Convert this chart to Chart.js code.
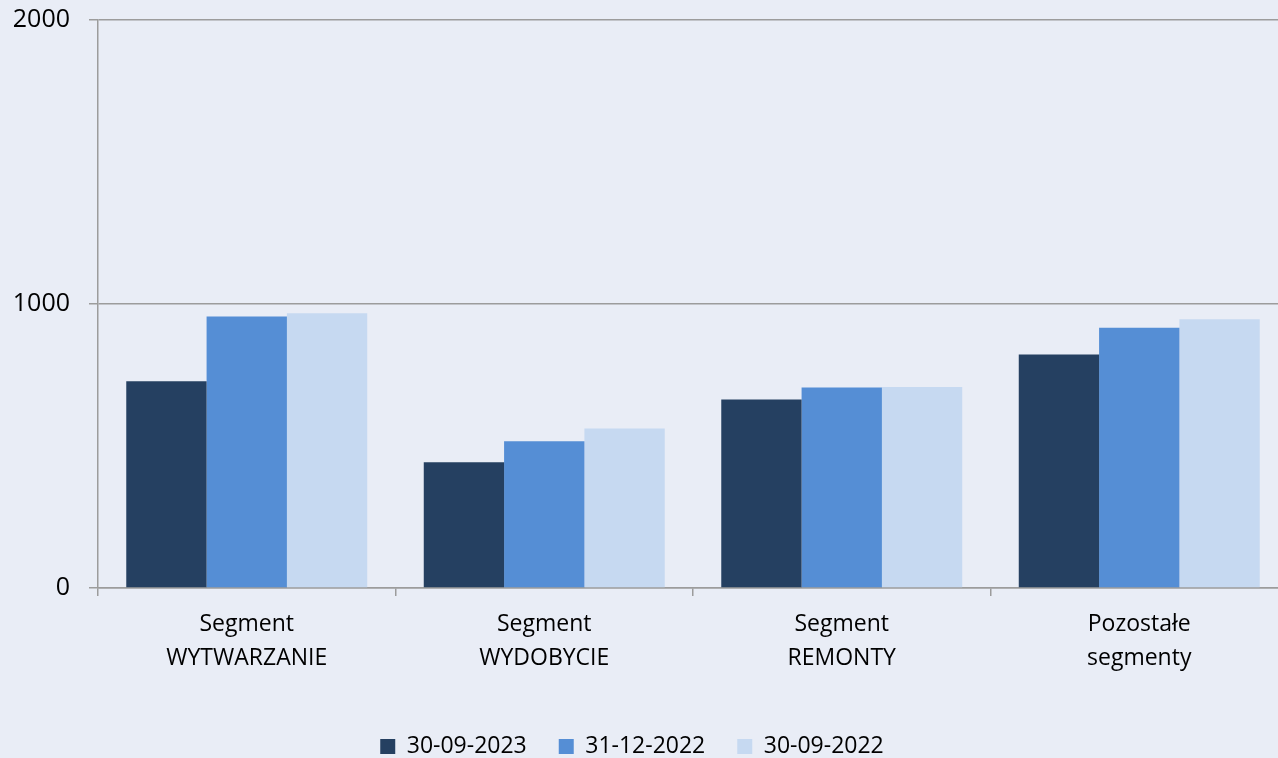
<!DOCTYPE html>
<html lang="pl">
<head>
<meta charset="utf-8">
<title>Segmenty</title>
<script src="https://cdn.jsdelivr.net/npm/chart.js@4/dist/chart.umd.min.js"></script>
<style>
  html, body { margin: 0; padding: 0; background: #E9EDF6; overflow: hidden; }
  #wrap { position: relative; top: -14px; width: 1288px; height: 782px; }
</style>
</head>
<body>
<div id="wrap"><canvas id="chart"></canvas></div>
<script>
// Segment categories (two-line axis labels)
const categories = [
  ['Segment', 'WYTWARZANIE'],
  ['Segment', 'WYDOBYCIE'],
  ['Segment', 'REMONTY'],
  ['Pozostałe', 'segmenty']
];

// Series, one per reporting date
const seriesLabels = ['30-09-2023', '31-12-2022', '30-09-2022'];
const values_2023_09_30 = [728, 443, 664, 822];
const values_2022_12_31 = [956, 517, 706, 916];
const values_2022_09_30 = [967, 562, 708, 946];

// Y-axis range and ticks
const yTicks = [0, 1000, 2000];

const colors = ['#254061', '#558ED5', '#C6D9F1'];
const axisGray = '#9C9C9C';
const font = "'Open Sans', 'Liberation Sans', sans-serif";

const bgPlugin = {
  id: 'pageBackground',
  beforeDraw(chart) {
    const ctx = chart.ctx;
    ctx.save();
    ctx.fillStyle = '#E9EDF6';
    ctx.fillRect(0, 0, chart.width, chart.height);
    ctx.restore();
  }
};

// Nudge the legend row a little to the left of the canvas centre
const legendShift = {
  id: 'legendShift',
  afterLayout(chart) {
    const lg = chart.legend;
    if (lg) { lg.left -= 12; lg.right -= 12; }
  }
};

const series = [values_2023_09_30, values_2022_12_31, values_2022_09_30];

new Chart(document.getElementById('chart'), {
  type: 'bar',
  data: {
    labels: categories,
    datasets: series.map((data, i) => ({
      label: seriesLabels[i],
      data,
      backgroundColor: colors[i],
      borderWidth: 0,
      categoryPercentage: 0.81,
      barPercentage: 1.0
    }))
  },
  options: {
    responsive: true,
    maintainAspectRatio: false,
    animation: false,
    layout: { padding: { top: 4, left: 0, right: 0, bottom: 0 } },
    plugins: {
      tooltip: { enabled: false },
      legend: {
        position: 'bottom',
        labels: {
          boxWidth: 15,
          boxHeight: 15,
          padding: 32,
          color: '#000',
          font: { family: font, size: 23 }
        }
      }
    },
    scales: {
      x: {
        afterFit(scale) { scale.height = 115; },
        grid: {
          drawOnChartArea: false,
          drawTicks: true,
          tickLength: 8,
          color: axisGray,
          lineWidth: 1.5
        },
        border: { color: axisGray, width: 1.5 },
        ticks: {
          color: '#000',
          padding: 11,
          maxRotation: 0,
          font: { family: font, size: 23, lineHeight: 1.478 }
        }
      },
      y: {
        min: yTicks[0],
        max: yTicks[yTicks.length - 1],
        afterBuildTicks(scale) {
          scale.ticks = yTicks.map(v => ({ value: v }));
        },
        afterFit(scale) { scale.width = 98; },
        grid: {
          color: axisGray,
          lineWidth: 1.5,
          tickLength: 9
        },
        border: { color: axisGray, width: 1.5 },
        ticks: {
          color: '#000',
          padding: 19,
          callback: v => String(v),
          font: { family: font, size: 25 }
        }
      }
    }
  },
  plugins: [bgPlugin, legendShift]
});
</script>
</body>
</html>
